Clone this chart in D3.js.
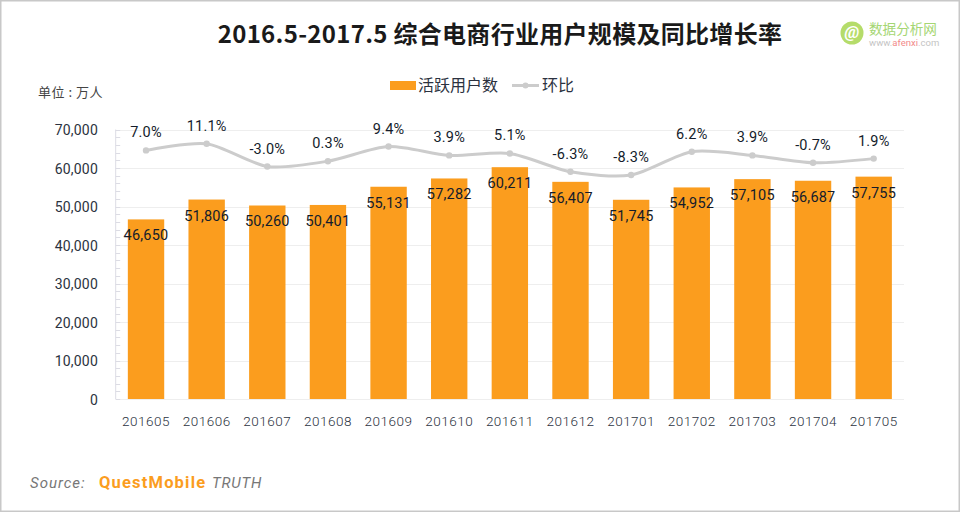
<!DOCTYPE html>
<html>
<head>
<meta charset="utf-8">
<title>综合电商行业用户规模</title>
<script src="https://d3js.org/d3.v7.min.js"></script>
<style>
    html, body { margin: 0; padding: 0; background: #fff; }
    svg { display: block; }
    text { font-family: Roboto, "Noto Sans CJK SC", sans-serif; fill: #2b3240; }
    .cjk { font-family: "Noto Sans CJK SC", sans-serif; }
</style>
</head>
<body>
<svg id="chart" width="960" height="512"></svg>

<script type="text/javascript">
var months = ["201605", "201606", "201607", "201608", "201609", "201610", "201611", "201612", "201701", "201702", "201703", "201704", "201705"];
var users = [46650, 51806, 50260, 50401, 55131, 57282, 60211, 56407, 51745, 54952, 57105, 56687, 57755];
var growth = [7.0, 11.1, -3.0, 0.3, 9.4, 3.9, 5.1, -6.3, -8.3, 6.2, 3.9, -0.7, 1.9];
var yTicks = [0, 10000, 20000, 30000, 40000, 50000, 60000, 70000];
var minorTicks = d3.range(0, 70001, 2000);

var svg = d3.select("#chart");
var plotLeft = 115.7, plotRight = 904, plotTop = 129.5, plotBottom = 399;

var x = d3.scaleBand().domain(months).range([plotLeft, plotRight]).paddingInner(0.4).paddingOuter(0.2);
var y = d3.scaleLinear().domain([0, 70000]).range([plotBottom, plotTop]);
// hidden secondary axis for the line
var y2 = d3.scaleLinear().domain([-147.5, 20]).range([plotBottom, plotTop]);
var fmt = d3.format(",");

// frame
svg.append("rect").attr("x", 0.5).attr("y", 0.5).attr("width", 959).attr("height", 511)
    .attr("fill", "none").attr("stroke", "#c8c8c8").attr("stroke-width", 2);

// title
svg.append("text").attr("class", "cjk").attr("x", 500).attr("y", 43)
    .attr("text-anchor", "middle").attr("font-size", 24).attr("font-weight", 700).attr("letter-spacing", 0.3)
    .style("fill", "#1a1a1a").text("2016.5-2017.5 综合电商行业用户规模及同比增长率");

// logo
var logo = svg.append("g");
logo.append("circle").attr("cx", 852).attr("cy", 33).attr("r", 11.5).attr("fill", "#b5dc6a");
logo.append("text").attr("x", 852).attr("y", 38).attr("text-anchor", "middle")
    .attr("font-size", 17).attr("font-weight", 700).attr("font-style", "italic")
    .style("fill", "#fff").text("@");
logo.append("text").attr("class", "cjk").attr("x", 869).attr("y", 34)
    .attr("font-size", 13.6).style("fill", "#a5d673").text("数据分析网");
var site = logo.append("text").attr("x", 869).attr("y", 45.5).attr("font-size", 9.5).style("fill", "#c4c4c4");
site.append("tspan").text("www.");
site.append("tspan").style("fill", "#f28a8a").text("afenxi");
site.append("tspan").text(".com");

// legend
svg.append("rect").attr("x", 390).attr("y", 81).attr("width", 26).attr("height", 9).attr("fill", "#fb9d1e");
svg.append("text").attr("class", "cjk").attr("x", 418).attr("y", 91).attr("font-size", 16).text("活跃用户数");
svg.append("line").attr("x1", 512).attr("x2", 539).attr("y1", 85.5).attr("y2", 85.5)
    .attr("stroke", "#cccccc").attr("stroke-width", 3);
svg.append("circle").attr("cx", 525.5).attr("cy", 85.5).attr("r", 3).attr("fill", "#cccccc");
svg.append("text").attr("class", "cjk").attr("x", 542).attr("y", 91).attr("font-size", 16).text("环比");

svg.append("text").attr("class", "cjk").attr("x", 38).attr("y", 97)
    .attr("font-size", 13).attr("letter-spacing", 0.5).style("fill", "#444").text("单位 : 万人");

// grid lines
svg.append("g").selectAll("line").data(yTicks).enter().append("line")
    .attr("x1", plotLeft).attr("x2", plotRight)
    .attr("y1", function(d) { return Math.round(y(d)) + 0.5; })
    .attr("y2", function(d) { return Math.round(y(d)) + 0.5; })
    .attr("stroke", "#eeeeee");

// y axis with minor ticks
svg.append("line").attr("x1", plotLeft).attr("x2", plotLeft).attr("y1", plotTop).attr("y2", plotBottom)
    .attr("stroke", "#dcdce4");
svg.append("g").selectAll("line").data(minorTicks).enter().append("line")
    .attr("x1", plotLeft).attr("x2", plotLeft + 4.5)
    .attr("y1", function(d) { return Math.round(y(d)) + 0.5; })
    .attr("y2", function(d) { return Math.round(y(d)) + 0.5; })
    .attr("stroke", "#dcdce4");

svg.append("g").selectAll("text").data(yTicks).enter().append("text")
    .attr("x", 98).attr("y", function(d) { return y(d) + 5.5; })
    .attr("text-anchor", "end").attr("font-size", 14).attr("letter-spacing", 0.2)
    .text(function(d) { return fmt(d); });

// x labels
svg.append("g").selectAll("text").data(months).enter().append("text")
    .attr("x", function(d) { return x(d) + x.bandwidth() / 2; }).attr("y", 426)
    .attr("text-anchor", "middle").attr("font-size", 13.5).attr("font-weight", 300).attr("letter-spacing", 0.5)
    .text(function(d) { return d; });

// bars
svg.append("g").selectAll("rect").data(users).enter().append("rect")
    .attr("x", function(d, i) { return x(months[i]); })
    .attr("width", x.bandwidth())
    .attr("y", function(d) { return y(d); })
    .attr("height", function(d) { return plotBottom - y(d); })
    .attr("fill", "#fb9d1e");

// growth line
var line = d3.line()
    .x(function(d, i) { return x(months[i]) + x.bandwidth() / 2; })
    .y(function(d) { return y2(d); })
    .curve(d3.curveCardinal.tension(0.2));
svg.append("path").datum(growth).attr("d", line)
    .attr("fill", "none").attr("stroke", "#cccccc").attr("stroke-width", 3);
svg.append("g").selectAll("circle").data(growth).enter().append("circle")
    .attr("cx", function(d, i) { return x(months[i]) + x.bandwidth() / 2; })
    .attr("cy", function(d) { return y2(d); })
    .attr("r", 3.2).attr("fill", "#cccccc");

// data labels
svg.append("g").selectAll("text").data(users).enter().append("text")
    .attr("x", function(d, i) { return x(months[i]) + x.bandwidth() / 2; })
    .attr("y", function(d) { return y(d) + 21; })
    .attr("text-anchor", "middle").attr("font-size", 14.5).attr("letter-spacing", 0.2)
    .style("fill", "#141c2b")
    .text(function(d) { return fmt(d); });
svg.append("g").selectAll("text").data(growth).enter().append("text")
    .attr("x", function(d, i) { return x(months[i]) + x.bandwidth() / 2; })
    .attr("y", function(d) { return y2(d) - 13; })
    .attr("text-anchor", "middle").attr("font-size", 14.5).attr("letter-spacing", 0.2)
    .style("fill", "#141c2b")
    .text(function(d) { return d.toFixed(1) + "%"; });

// source
svg.append("text").attr("x", 30).attr("y", 488).attr("font-size", 15).attr("font-style", "italic")
    .attr("letter-spacing", 1).style("fill", "#777").text("Source:");
svg.append("text").attr("x", 99).attr("y", 488).attr("font-size", 16.5).attr("font-weight", 700)
    .attr("letter-spacing", 0.9).attr("textLength", 107).style("fill", "#fb9d1e").text("QuestMobile");
svg.append("text").attr("x", 212).attr("y", 488).attr("font-size", 15).attr("font-style", "italic")
    .attr("letter-spacing", 0.8).style("fill", "#777").text("TRUTH");
</script>
</body>
</html>
